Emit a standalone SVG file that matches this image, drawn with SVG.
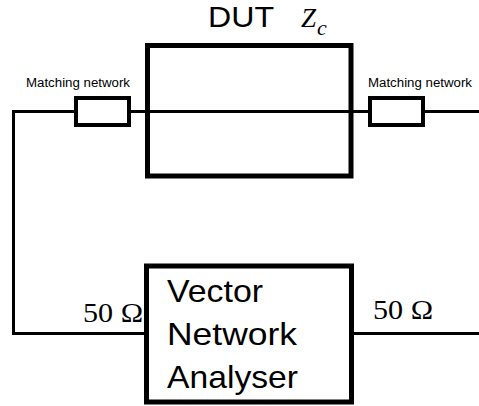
<svg xmlns="http://www.w3.org/2000/svg" width="479" height="406" viewBox="0 0 479 406">
<style>
.box{fill:none;stroke:#000;stroke-width:5}
.mn{fill:#fff;stroke:#000;stroke-width:4}
.wire{fill:none;stroke:#000;stroke-width:3}
.lbl{font-family:"Liberation Sans","Open Sans",sans-serif;fill:#000}
.ser{font-family:"Liberation Serif","DejaVu Serif",serif;fill:#000}
</style>
<rect width="479" height="406" fill="#fff"/>
<g id="connectors">
<path class="wire" d="M479,111.5 H13.5 V333.5 H147"/>
<path class="wire" d="M351,333.5 H479"/>
</g>
<g id="dut">
<rect class="box" x="147.5" y="45.5" width="203.5" height="130.5"/>
<text class="lbl" x="208" y="27" font-size="30" textLength="66" lengthAdjust="spacingAndGlyphs">DUT</text>
<text class="ser" x="301" y="27" font-size="27" font-style="italic">Z</text>
<text class="ser" x="317" y="35" font-size="22" font-style="italic">c</text>
</g>
<g id="mn-left">
<rect class="mn" x="76" y="98" width="53" height="27"/>
<text class="lbl" x="26" y="87" font-size="12.5" textLength="104" lengthAdjust="spacingAndGlyphs">Matching network</text>
</g>
<g id="mn-right">
<rect class="mn" x="370" y="98" width="53" height="27"/>
<text class="lbl" x="368" y="87" font-size="12.5" textLength="104" lengthAdjust="spacingAndGlyphs">Matching network</text>
</g>
<g id="vna">
<rect class="box" x="146.5" y="266" width="205" height="136" fill="#fff"/>
<text class="lbl" font-size="32">
<tspan x="167" y="302" textLength="96" lengthAdjust="spacingAndGlyphs">Vector</tspan>
<tspan x="167" y="345" textLength="130" lengthAdjust="spacingAndGlyphs">Network</tspan>
<tspan x="167" y="388" textLength="131" lengthAdjust="spacingAndGlyphs">Analyser</tspan>
</text>
</g>
<g id="labels">
<text class="ser" x="83" y="322" font-size="28" textLength="60" lengthAdjust="spacingAndGlyphs">50 Ω</text>
<text class="ser" x="373" y="319" font-size="28" textLength="60" lengthAdjust="spacingAndGlyphs">50 Ω</text>
</g>
</svg>
